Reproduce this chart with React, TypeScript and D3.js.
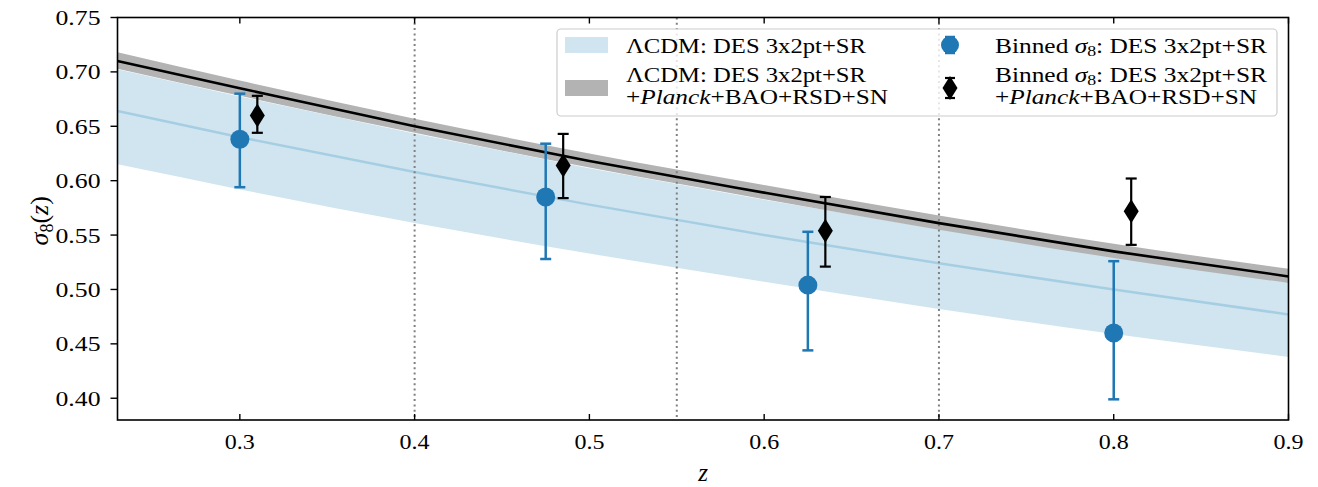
import React from "react";
import * as d3 from "d3";

// ---- data ----
const zGrid = [0.23, 0.3, 0.4, 0.5, 0.6, 0.7, 0.8, 0.9];
const desCenter = [0.664, 0.640, 0.608, 0.578, 0.550, 0.524, 0.500, 0.477];
const desLower = [0.615, 0.592, 0.561, 0.533, 0.507, 0.482, 0.459, 0.438];
const desUpper = [0.703, 0.678, 0.644, 0.612, 0.583, 0.556, 0.531, 0.509];
const combCenter = [0.710, 0.685, 0.650, 0.618, 0.589, 0.561, 0.535, 0.512];
const combLower = [0.703, 0.678, 0.644, 0.612, 0.583, 0.555, 0.529, 0.506];
const combUpper = [0.718, 0.692, 0.657, 0.625, 0.596, 0.568, 0.542, 0.519];

const binZ = [0.3, 0.475, 0.625, 0.8];
const binDes = [0.638, 0.585, 0.504, 0.460];
const binDesLo = [0.594, 0.528, 0.444, 0.399];
const binDesHi = [0.680, 0.634, 0.553, 0.526];

const binZComb = [0.31, 0.485, 0.635, 0.81];
const binComb = [0.660, 0.614, 0.554, 0.572];
const binCombLo = [0.644, 0.584, 0.521, 0.541];
const binCombHi = [0.678, 0.643, 0.585, 0.602];

const binEdges = [0.4, 0.55, 0.7];
const xTicks = [0.3, 0.4, 0.5, 0.6, 0.7, 0.8, 0.9];
const yTicks = [0.4, 0.45, 0.5, 0.55, 0.6, 0.65, 0.7, 0.75];

const W = 1318;
const H = 487;
const L = 117.5, R = 1288.5, T = 17.5, B = 420;
const FONT = "'Liberation Serif', serif";

const BLUE = "#1f77b4";
const BAND = "#d1e5f0";
const BLUELINE = "#a6cee3";
const GRAY = "#b3b3b3";

export default function App() {
  const x = d3.scaleLinear().domain([0.23, 0.9]).range([L, R]);
  const y = d3.scaleLinear().domain([0.38, 0.75]).range([B, T]);
  const idx = zGrid.map((_, i) => i);

  const area = (lo: number[], hi: number[]) =>
    d3.area<number>()
      .x((i) => x(zGrid[i]))
      .y0((i) => y(lo[i]))
      .y1((i) => y(hi[i]))
      .curve(d3.curveMonotoneX)(idx) || "";
  const line = (v: number[]) =>
    d3.line<number>()
      .x((i) => x(zGrid[i]))
      .y((i) => y(v[i]))
      .curve(d3.curveMonotoneX)(idx) || "";

  const diamond = (cx: number, cy: number, w: number, h: number) =>
    `M${cx},${cy - h / 2}L${cx + w / 2},${cy}L${cx},${cy + h / 2}L${cx - w / 2},${cy}Z`;

  const FS = 20;
  const binnedLabel = (key: string, yy: number) => (
    <text x={995} y={yy} fontSize={FS} textLength={272} lengthAdjust="spacingAndGlyphs">
      <tspan key={key + "b"}>Binned </tspan>
      <tspan key={key + "s"} fontStyle="italic">σ</tspan>
      <tspan key={key + "8"} fontSize="14" dy="3">8</tspan>
      <tspan key={key + "r"} dy="-3">: DES 3x2pt+SR</tspan>
    </text>
  );
  const planckLabel = (xx: number, yy: number) => (
    <text x={xx} y={yy} fontSize={FS} textLength={262} lengthAdjust="spacingAndGlyphs">
      <tspan>+</tspan><tspan fontStyle="italic">Planck</tspan><tspan>+BAO+RSD+SN</tspan>
    </text>
  );

  return (
    <svg width={W} height={H} style={{ position: "absolute", left: 0, top: 0, display: "block", background: "#fff" }}
      fontFamily={FONT}>
      <defs>
        <clipPath id="plot">
          <rect x={L} y={T} width={R - L} height={B - T} />
        </clipPath>
      </defs>
      <g clipPath="url(#plot)">
        <path d={area(desLower, desUpper)} fill={BAND} />
        <path d={line(desUpper)} fill="none" stroke="#fff" strokeWidth={1.2} />
        <path d={line(desCenter)} fill="none" stroke={BLUELINE} strokeWidth={2.5} />
        <path d={area(combLower, combUpper)} fill={GRAY} />
        {binEdges.map((b) => (
          <line key={b} x1={x(b)} x2={x(b)} y1={T} y2={B} stroke="#808080" strokeWidth={2} strokeDasharray="2,3.3" />
        ))}
        <path d={line(combCenter)} fill="none" stroke="#000" strokeWidth={2.6} />
      </g>

      {/* error bars DES */}
      {binZ.map((z, i) => (
        <g key={"d" + i} stroke={BLUE} strokeWidth={2.5}>
          <line x1={x(z)} x2={x(z)} y1={y(binDesLo[i])} y2={y(binDesHi[i])} />
          <line x1={x(z) - 5.5} x2={x(z) + 5.5} y1={y(binDesLo[i])} y2={y(binDesLo[i])} />
          <line x1={x(z) - 5.5} x2={x(z) + 5.5} y1={y(binDesHi[i])} y2={y(binDesHi[i])} />
          <circle cx={x(z)} cy={y(binDes[i])} r={9.5} fill={BLUE} stroke="none" />
        </g>
      ))}
      {/* error bars combined */}
      {binZComb.map((z, i) => (
        <g key={"c" + i} stroke="#000" strokeWidth={2.2}>
          <line x1={x(z)} x2={x(z)} y1={y(binCombLo[i])} y2={y(binCombHi[i])} />
          <line x1={x(z) - 5.5} x2={x(z) + 5.5} y1={y(binCombLo[i])} y2={y(binCombLo[i])} />
          <line x1={x(z) - 5.5} x2={x(z) + 5.5} y1={y(binCombHi[i])} y2={y(binCombHi[i])} />
          <path d={diamond(x(z), y(binComb[i]), 15, 24)} fill="#000" stroke="none" />
        </g>
      ))}

      {/* spines */}
      <rect x={L} y={T} width={R - L} height={B - T} fill="none" stroke="#000" strokeWidth={1.6} />

      {/* x ticks: inward, bottom and top */}
      {xTicks.map((t) => (
        <g key={"xt" + t}>
          <line x1={x(t)} x2={x(t)} y1={B} y2={B - 6} stroke="#000" strokeWidth={1.4} />
          <line x1={x(t)} x2={x(t)} y1={T} y2={T + 6} stroke="#000" strokeWidth={1.4} />
          <text x={x(t)} y={B + 29} textAnchor="middle" fontSize={22} textLength={30} lengthAdjust="spacingAndGlyphs">
            {d3.format(".1f")(t)}
          </text>
        </g>
      ))}
      {/* y ticks: outward on left */}
      {yTicks.map((t) => (
        <g key={"yt" + t}>
          <line x1={L} x2={L - 7} y1={y(t)} y2={y(t)} stroke="#000" strokeWidth={1.4} />
          <text x={L - 17} y={y(t)} dy="0.34em" textAnchor="end" fontSize={22} textLength={45} lengthAdjust="spacingAndGlyphs">
            {d3.format(".2f")(t)}
          </text>
        </g>
      ))}

      {/* axis labels */}
      <text x={(L + R) / 2} y={481} textAnchor="middle" fontSize={25} fontStyle="italic">z</text>
      <text transform={`translate(48,${(T + B) / 2 + 2}) rotate(-90)`} textAnchor="middle" fontSize={26}>
        <tspan fontStyle="italic">σ</tspan>
        <tspan fontSize="18" dy="5">8</tspan>
        <tspan dy="-5">(</tspan>
        <tspan fontStyle="italic">z</tspan>
        <tspan>)</tspan>
      </text>

      {/* legend */}
      <g>
        <rect x={557} y={29} width={720} height={87} rx={4} fill="#fff" fillOpacity={0.8} stroke="#cccccc" strokeWidth={1.2} />
        <rect x={565} y={37} width={43} height={16} fill={BAND} />
        <text x={626} y={53} fontSize={FS} textLength={240} lengthAdjust="spacingAndGlyphs">ΛCDM: DES 3x2pt+SR</text>
        <rect x={565} y={80} width={43} height={16} fill={GRAY} />
        <text x={626} y={82} fontSize={FS} textLength={240} lengthAdjust="spacingAndGlyphs">ΛCDM: DES 3x2pt+SR</text>
        {planckLabel(626, 104)}

        <g stroke={BLUE} strokeWidth={2.5}>
          <line x1={950} x2={950} y1={37} y2={53} />
          <line x1={945} x2={955} y1={37} y2={37} />
          <line x1={945} x2={955} y1={53} y2={53} />
          <circle cx={950} cy={45} r={9} fill={BLUE} stroke="none" />
        </g>
        {binnedLabel("a", 53)}

        <g stroke="#000" strokeWidth={2.2}>
          <line x1={950} x2={950} y1={78} y2={98} />
          <line x1={945} x2={955} y1={78} y2={78} />
          <line x1={945} x2={955} y1={98} y2={98} />
          <path d={diamond(950, 88, 15, 24)} fill="#000" stroke="none" />
        </g>
        {binnedLabel("b", 82)}
        {planckLabel(995, 104)}
      </g>
    </svg>
  );
}
